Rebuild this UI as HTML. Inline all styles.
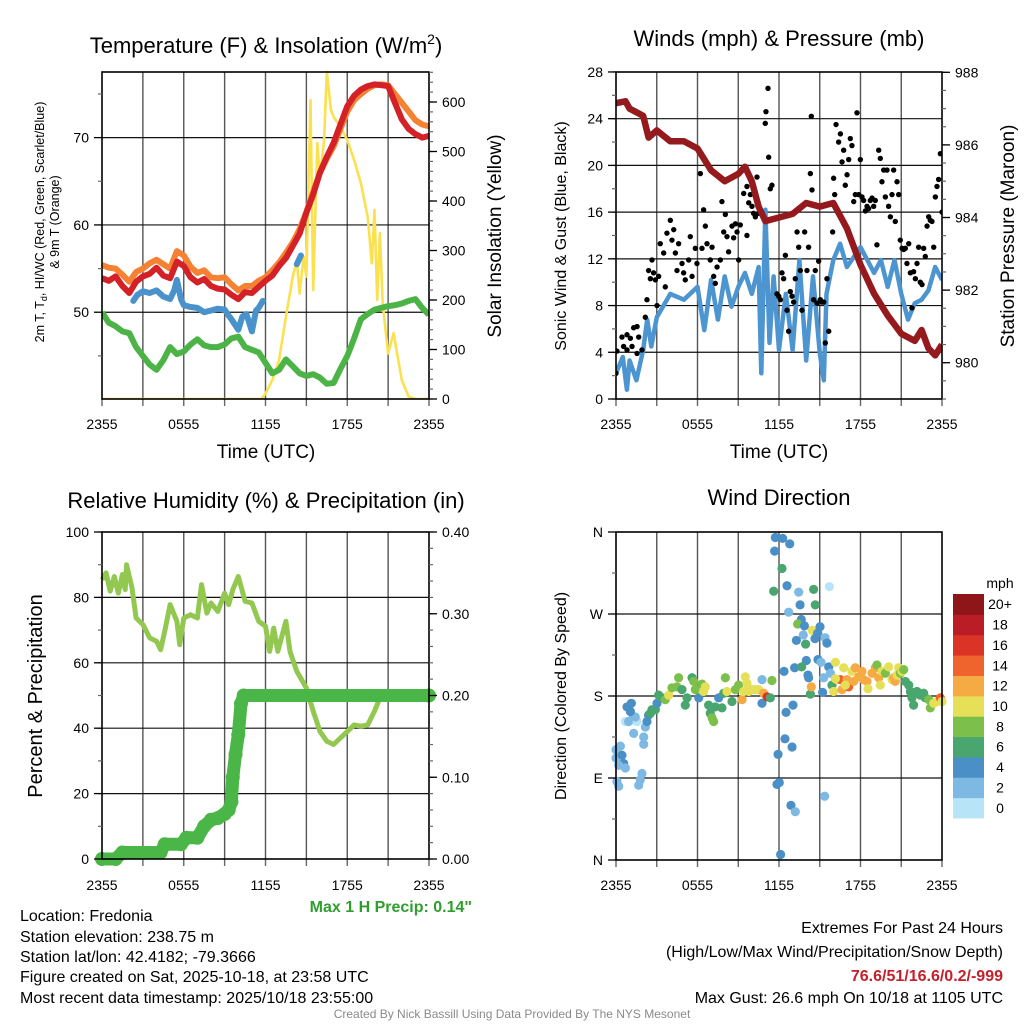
<!DOCTYPE html>
<html><head><meta charset="utf-8"><style>
html,body{margin:0;padding:0;background:#fff;}
svg{display:block;font-family:"Liberation Sans",Arial,sans-serif;}
</style></head><body>
<svg id="fig" xmlns="http://www.w3.org/2000/svg" width="1024" height="1024" viewBox="0 0 1024 1024">
<rect width="1024" height="1024" fill="#fff"/>
<g id="g1"></g>
<g id="g2"></g>
<g id="g3"></g>
<g id="g4"></g>
<g id="titles" font-size="22" text-anchor="middle">
<text x="266" y="53">Temperature (F) &amp; Insolation (W/m<tspan font-size="14" dy="-9">2</tspan><tspan dy="9">)</tspan></text>
<text x="779" y="46">Winds (mph) &amp; Pressure (mb)</text>
<text x="266" y="508">Relative Humidity (%) &amp; Precipitation (in)</text>
<text x="779" y="505">Wind Direction</text>
<text x="266" y="458" font-size="19">Time (UTC)</text>
<text x="779" y="458" font-size="19">Time (UTC)</text>
<text transform="translate(44,222) rotate(-90)" font-size="12.5">2m T, T<tspan font-size="9" dy="3">d</tspan><tspan dy="-3">, HI/WC (Red, Green, Scarlet/Blue)</tspan></text>
<text transform="translate(59,222) rotate(-90)" font-size="12.5">&amp; 9m T (Orange)</text>
<text transform="translate(501,236) rotate(-90)" font-size="19">Solar Insolation (Yellow)</text>
<text transform="translate(566,236) rotate(-90)" font-size="16">Sonic Wind &amp; Gust (Blue, Black)</text>
<text transform="translate(1014,236) rotate(-90)" font-size="19">Station Pressure (Maroon)</text>
<text transform="translate(42,696) rotate(-90)" font-size="20">Percent &amp; Precipitation</text>
<text transform="translate(566,696) rotate(-90)" font-size="16">Direction (Colored By Speed)</text>
<text x="1000" y="588" font-size="14">mph</text>
</g>
<g id="txt" font-size="16" fill="#000">
<text x="20" y="921">Location: Fredonia</text>
<text x="20" y="942">Station elevation: 238.75 m</text>
<text x="20" y="962">Station lat/lon: 42.4182; -79.3666</text>
<text x="20" y="982">Figure created on Sat, 2025-10-18, at 23:58 UTC</text>
<text x="20" y="1003">Most recent data timestamp: 2025/10/18 23:55:00</text>
<text x="472" y="912" text-anchor="end" font-weight="bold" fill="#2e9e2e">Max 1 H Precip: 0.14"</text>
<text x="1003" y="933" text-anchor="end">Extremes For Past 24 Hours</text>
<text x="1003" y="957" text-anchor="end">(High/Low/Max Wind/Precipitation/Snow Depth)</text>
<text x="1003" y="981" text-anchor="end" font-weight="bold" fill="#c4202a">76.6/51/16.6/0.2/-999</text>
<text x="1003" y="1003" text-anchor="end">Max Gust: 26.6 mph On 10/18 at 1105 UTC</text>
<text x="512" y="1018" text-anchor="middle" font-size="12" fill="#8a8a8a">Created By Nick Bassill Using Data Provided By The NYS Mesonet</text>
</g>
</svg>
<script>
const timeTicks = ["2355","0555","1155","1755","2355"];
const tempHours = [0,0.5,1,1.5,2,2.5,3,3.5,4,4.5,5,5.5,6,6.5,7,7.5,8,8.5,9,9.5,10,10.5,11,11.5,12,12.5,13,13.5,14,14.5,15,15.5,16,16.5,17,17.5,18,18.5,19,19.5,20,20.5,21,21.5,22,22.5,23,23.5,24];
const temp2m = [53.9,53.6,54.1,53.0,52.2,53.5,54.1,54.4,55.1,54.2,53.9,55.8,55.3,54.0,53.4,53.8,53.0,52.7,52.6,52.0,51.5,52.3,52.2,52.9,53.6,54.2,55.3,56.2,57.6,59.0,61.4,63.5,66.0,67.8,69.4,71.5,73.6,74.8,75.5,75.9,76.1,76.0,75.9,74.0,72.1,71.0,70.4,70.0,70.2];
const temp9m = [55.4,55.1,55.0,54.3,53.5,54.6,55.0,55.6,56.0,55.5,55.0,57.0,56.5,55.2,54.5,54.8,54.0,53.9,54.0,53.2,52.5,53.0,53.0,53.6,54.0,54.8,55.7,56.8,58.0,59.5,61.5,63.8,66.0,67.6,69.0,71.0,73.0,74.3,75.0,75.6,76.0,76.1,76.0,75.0,74.0,73.0,72.0,71.5,71.3];
const dewPoint = [50.0,48.8,48.4,47.8,47.6,46.0,45.0,44.0,43.4,44.5,46.0,45.2,45.5,46.3,46.9,46.2,46.0,46.0,46.3,47.0,47.2,46.0,45.7,45.4,44.2,43.0,43.4,44.6,43.8,43.0,42.7,42.9,42.5,41.8,41.9,43.5,45.0,47.0,49.2,49.8,50.3,50.5,50.7,50.8,51.0,51.3,51.5,50.5,49.7];
const chillHours = [2.3,2.6,3,3.5,4,4.5,5,5.3,5.5,5.8,6,6.5,7,7.5,8,8.5,9,9.3,9.5,10,10.3,10.6,11,11.3,11.5,11.8];
const windChill = [51.3,52.0,52.4,52.2,52.5,51.8,51.5,52.5,53.7,51.5,50.8,50.6,50.5,50.0,50.2,50.4,50.3,49.6,49.2,48.0,49.5,49.8,47.8,50.2,50.5,51.3];
const chillHours2 = [14.3,14.6];
const windChill2 = [55.5,56.5];
const solarHours = [0,11.7,12,12.5,13,13.5,14,14.3,14.5,14.8,15,15.3,15.5,15.8,16,16.3,16.5,16.8,17,17.5,18,18.5,19,19.5,19.8,20,20.2,20.4,20.6,21,21.4,22,22.5,23,24];
const solarVals = [0,0,11,38,79,166,247,281,213,288,247,604,220,517,449,523,661,584,570,550,523,483,436,368,274,382,200,335,193,92,133,38,5,0,0];

const windHours = [0,0.5,0.8,1,1.5,2,2.3,2.6,3,4,5,6,6.5,7,7.5,8,8.5,9,9.5,10,10.5,10.7,11,11.3,11.6,12,12.5,13,13.5,14,14.5,15,15.3,15.5,16,16.5,17,18,19,19.5,20,20.5,21,21.5,22,22.5,23,23.5,24];
const windSpeed = [2.2,3.6,0.8,3.3,1.6,4.2,6.8,4.5,7.0,9.0,8.5,9.6,5.9,10.2,6.8,10.5,7.9,9.6,10.8,9.0,11.3,2.2,16.2,4.8,10.5,4.2,9.0,4.2,11.9,3.3,10.5,3.9,1.6,9.0,11.9,13.3,11.3,13.0,10.8,11.9,9.6,11.9,9.0,6.8,8.2,8.5,9.3,11.3,10.2];
const presHours = [0,0.7,1,2,2.4,3,4,5,6,7,8,9,9.5,10,10.5,11,12,13,14,15,16,17,18,19,20,21,22,22.5,23,23.5,24];
const pressure = [987.15,987.2,987.0,986.8,986.2,986.4,986.1,986.1,985.9,985.3,985.0,985.2,985.4,985.0,984.3,983.9,984.0,984.1,984.4,984.3,984.4,983.7,982.7,981.9,981.3,980.8,980.6,980.9,980.4,980.2,980.5];
const gustHours = [
0,0.07,0.44,0.81,1.06,1.3,1.55,1.18,0.81,1.67,
1.91,1.55,0.56,2.16,2.28,2.4,2.65,2.77,2.53,2.9,
3.02,3.14,3.26,3.51,3.63,3.75,4.0,4.12,4.25,4.37,
4.49,4.61,4.86,4.98,5.1,5.35,5.47,5.6,5.84,5.96,
6.21,6.33,6.45,6.58,6.7,6.94,7.07,7.19,7.31,7.44,
7.68,7.8,7.93,8.05,8.17,8.29,8.54,8.66,8.79,8.91,
9.03,9.15,9.4,9.64,9.77,9.89,10.01,10.13,10.26,10.38,
10.5,10.63,9.64,10.99,11.04,11.19,11.24,11.36,11.48,11.85,
11.98,12.1,12.22,12.34,12.47,12.59,12.71,12.83,12.96,13.08,
13.2,13.33,13.45,13.57,13.69,13.89,14.06,14.18,14.31,14.38,
14.43,14.55,14.67,14.8,14.92,15.04,15.17,15.29,15.41,15.53,
15.66,15.95,16.02,16.1,16.2,16.39,16.52,16.64,16.76,16.88,
17.01,17.13,17.25,17.37,17.5,17.62,17.74,17.87,17.99,18.11,
18.23,18.36,18.48,18.6,18.72,18.85,18.97,19.09,19.21,19.34,
19.46,19.58,19.71,19.83,19.95,20.07,20.2,20.32,20.44,20.56,
20.69,20.81,20.93,21.06,21.18,21.3,21.42,21.55,21.67,21.79,
21.91,22.04,22.16,22.28,22.4,22.53,22.65,22.77,22.9,23.02,
23.14,23.26,23.39,23.51,23.63,23.75,23.88,24.0];
const gustMph = [
2.2,4.1,5.3,5.5,5.2,6.1,6.2,4.5,4.2,5.3,
4.2,3.9,4.5,7.0,8.5,11.0,11.9,10.8,10.3,10.2,
8.0,10.5,13.3,12.5,9.6,14.2,15.3,13.6,14.5,12.5,
11.0,13.3,11.6,10.8,10.2,11.9,13.9,10.5,12.9,11.6,
19.3,12.9,16.2,14.8,13.3,11.9,13.0,10.5,9.9,11.3,
11.9,16.9,14.3,15.8,13.9,12.6,14.8,13.8,15.0,14.3,
11.9,14.9,17.6,18.2,16.8,17.5,16.5,15.9,15.6,19.0,
15.9,15.9,14.0,23.6,24.6,26.6,20.7,18.0,18.3,9.0,
8.8,8.5,10.8,10.3,12.3,7.6,5.8,9.2,8.8,8.3,
10.3,14.3,13.0,11.0,7.6,14.3,11.0,13.0,19.3,24.2,
17.9,8.5,11.0,8.2,11.8,8.5,8.3,8.3,4.8,10.3,
5.8,14.3,18.9,17.5,23.5,22.0,22.7,20.3,21.3,18.3,
19.2,20.5,22.3,21.7,16.9,17.5,24.5,17.5,20.5,17.3,
17.0,16.1,16.5,16.3,17.0,17.2,16.5,17.0,13.2,21.3,
20.6,18.6,19.6,17.3,19.6,16.5,15.6,17.5,19.6,15.2,
18.6,17.5,13.6,12.9,12.8,12.9,11.6,13.3,10.8,7.8,
10.9,10.3,11.6,13.0,10.0,9.8,12.9,12.2,14.8,15.6,
15.3,15.2,13.0,17.3,18.2,18.8,21.0,16.0];

const rhHours = [0,0.3,0.6,0.9,1.2,1.5,1.7,1.8,2.2,2.5,3,3.5,4,4.3,4.6,5,5.5,5.7,6,6.5,7,7.3,7.7,8,8.5,9,9.3,9.6,10,10.5,11,11.5,12,12.3,12.6,12.9,13.5,13.8,14.3,15,15.5,16,16.5,17,17.5,18,18.5,19,19.5,20,20.5,21,22,24];
const rhVals = [85.4,87.5,81.9,86.4,81.3,87.0,82.4,90.0,82.9,73.7,71.7,67.6,66.6,64.0,69.6,77.8,72.7,65.5,73.7,74.7,73.7,83.9,75.2,78.3,75.7,81.3,77.8,82.4,86.4,78.8,78.3,72.7,71.2,63.5,70.6,63.5,72.7,63.5,57.4,52.3,45.2,39.0,36.0,35.0,37.0,39.0,41.0,40.6,41.0,45.2,50.3,50.8,50.5,50.5];
const precipHours = [0,1,1.5,4.3,4.6,5.8,6.2,7,7.5,8,8.5,9,9.3,9.5,9.6,9.8,10,10.2,10.4,24];
const precipVals = [0,0,0.008,0.008,0.018,0.018,0.026,0.026,0.04,0.048,0.05,0.055,0.06,0.07,0.10,0.128,0.152,0.19,0.20,0.20];

const dirLabels = ["N","E","S","W","N"];
const speedBins = ["0","2","4","6","8","10","12","14","16","18","20+"];
const binColors = ["#b8e4f8","#7db9e3","#4a8fc6","#49a66f","#7cc04b","#e6e059","#f6aa44","#ef642c","#dc3327","#ba1d26","#8e1619"];
const dirHours = [
0,0,0.32,0.44,0.56,0.2,0.69,0.07,0.2,1.67,
1.79,1.91,1.3,2.04,2.04,2.16,0.69,0.93,1.18,1.55,
1.42,2.28,0.81,1.13,1.06,2.4,2.53,2.65,2.9,3.02,
3.14,3.39,3.63,3.88,4.12,4.49,4.61,4.86,5.1,5.23,
5.6,5.72,5.84,6.09,6.33,6.58,6.45,6.82,6.94,7.07,
7.19,7.31,7.56,7.8,7.93,8.05,8.17,8.54,8.79,9.03,
9.28,9.4,9.52,9.64,9.77,10.01,10.26,10.5,10.75,10.87,
11.12,11.36,11.48,10.75,
11.73,12.27,12.79,11.68,12.22,11.61,12.59,13.45,14.55,15.71,
13.55,14.67,12.71,13.64,13.37,13.87,14.45,15.02,13.79,14.85,
15.39,13.28,14.65,13.96,15.53,14.01,14.87,15.09,13.15,13.67,
12.37,15.66,15.78,14.13,14.18,15.29,16.15,13.03,12.52,12.44,
12.96,11.93,11.85,12.02,12.88,13.2,15.36,12.12,14.31,15.21,14.38,
15.9,16.02,16.27,16.52,16.64,16.76,17.01,17.13,17.37,17.5,
17.62,17.87,18.11,18.23,18.48,18.55,18.85,19.09,19.21,19.34,
19.58,19.46,19.83,20.07,20.32,20.44,20.56,20.69,20.81,20.93,
21.06,21.18,21.3,21.55,21.67,21.79,21.91,22.16,22.4,22.65,
22.77,23.02,23.14,23.39,23.63,23.88,24,16.88,16.15];
const dirDeg = [
121,112,125,115,106,104,101,86,81,82,
88,95,139,135,127,146,152,152,154,152,
157,152,168,172,163,159,161,165,165,172,
181,178,176,181,189,190,200,187,170,178,
200,196,187,178,193,190,185,170,161,156,
152,168,178,167,183,200,185,174,187,192,
176,185,201,194,185,187,187,187,172,183,
179,178,197,198,
354,353,347,339,320,295,301,294,297,300,
280,280,272,264,259,257,252,256,247,249,
244,241,243,237,238,219,220,217,211,212,
207,212,205,203,200,200,217,170,162,133,
124,116,83,85,60,53,70,6,182,184,190,
192,185,198,198,187,211,198,190,207,196,
211,201,207,198,196,188,205,211,214,200,
207,192,205,212,198,200,196,203,211,205,
207,209,196,192,185,178,170,185,181,183,
178,176,167,172,174,178,174,192,199];
const dirSpeed = [
2,2,2,4,4,2,2,2,2,2,
2,2,2,2,2,2,0,2,2,0,
2,4,4,4,4,4,6,6,6,4,
6,6,8,10,8,8,8,6,6,6,
6,8,8,4,8,10,10,6,6,8,
8,6,4,6,6,8,10,6,8,8,
12,10,10,10,10,10,10,10,4,12,
16,6,8,2,
4,4,4,4,6,6,4,2,6,0,
4,6,2,4,8,4,10,4,2,4,
2,4,4,6,4,4,4,2,4,6,
4,4,2,4,4,2,10,4,4,4,
4,4,4,4,4,2,2,4,6,4,12,
6,10,10,14,12,10,12,14,10,12,
12,12,12,12,12,10,12,12,8,12,
10,10,8,10,10,12,12,10,10,8,
10,8,6,6,6,6,6,6,6,6,
6,8,8,10,10,14,10,10,10];

const NS = "http://www.w3.org/2000/svg";
function mk(tag, attrs, parent){const e=document.createElementNS(NS,tag);for(const k in attrs)e.setAttribute(k,attrs[k]);parent.appendChild(e);return e;}
function pathFrom(xs, ys, fx, fy){let d="";for(let i=0;i<xs.length;i++){d+=(i?"L":"M")+fx(xs[i]).toFixed(1)+","+fy(ys[i]).toFixed(1);}return d;}

function frame(g, L, R, T, B, gridYs, xLabY){
  for(let h=3;h<24;h+=3){
    const x=L+h/24*(R-L);
    const ln=mk("line",{x1:x,x2:x,y1:T,y2:B,stroke:"#555","stroke-width":1.4},g);
    
    
  }
  gridYs.forEach(y=>{
    const ln=mk("line",{x1:L,x2:R,y1:y,y2:y,stroke:"#111","stroke-width":1.2},g);
    
    
  });
  for(let h=0;h<=24;h+=3){
    const x=L+h/24*(R-L);
    const tk=mk("line",{x1:x,x2:x,y1:B,y2:B+7,stroke:"#666","stroke-width":1.4},g);
    
    
  }
  timeTicks.forEach((s,i)=>{
    const t=mk("text",{x:L+i*6/24*(R-L),y:xLabY,"text-anchor":"middle","font-size":14},g);
    t.textContent=s;
    
    
  });
}
function border(g,L,R,T,B){
  const r=mk("rect",{x:L,y:T,width:R-L,height:B-T,fill:"none",stroke:"#000","stroke-width":1.6},g);
  
  
}
function yAxis(g, x, side, vals, fy, labels, minorVals){
  const dir = side==="left"?-1:1;
  minorVals.forEach(v=>{
    const tk=mk("line",{x1:x,x2:x+dir*4,y1:fy(v),y2:fy(v),stroke:"#666","stroke-width":1.2},g);
    
    
  });
  vals.forEach((v,i)=>{
    const y=fy(v);
    const tk=mk("line",{x1:x,x2:x+dir*8,y1:y,y2:y,stroke:"#000","stroke-width":1.3},g);
    
    
    const t=mk("text",{x:x+dir*13,y:y+5,"text-anchor":side==="left"?"end":"start","font-size":14},g);
    t.textContent=labels[i];
    
    
  });
}
function range(a,b,s){const r=[];for(let v=a;v<=b+1e-9;v+=s)r.push(+v.toFixed(4));return r;}

(function(){
  const g=document.getElementById("g1");
  const L=102,R=429,T=72,B=399;
  const x=h=>L+h/24*(R-L);
  const yT=f=>B-(f-40.06)*8.73;
  const yS=w=>B-w*0.495;
  frame(g,L,R,T,B,[yT(50),yT(60),yT(70)],429);
  const clip=mk("clipPath",{id:"c1"},g); mk("rect",{x:L,y:T-2,width:R-L,height:B-T+2},clip);
  const pg=mk("g",{"clip-path":"url(#c1)"},g);
  const sol=mk("path",{d:pathFrom(solarHours,solarVals,x,yS),fill:"none",stroke:"#fbe150","stroke-width":2.6,"stroke-linejoin":"round"},pg);
  
  
  const dw=mk("path",{d:pathFrom(tempHours,dewPoint,x,yT),fill:"none",stroke:"#4cb447","stroke-width":6,"stroke-linejoin":"round"},pg);
  
  
  const t9=mk("path",{d:pathFrom(tempHours,temp9m,x,yT),fill:"none",stroke:"#f58232","stroke-width":6,"stroke-linejoin":"round"},pg);
  
  
  const t2=mk("path",{d:pathFrom(tempHours,temp2m,x,yT),fill:"none",stroke:"#d42027","stroke-width":6,"stroke-linejoin":"round"},pg);
  
  
  const wc=mk("path",{d:pathFrom(chillHours,windChill,x,yT),fill:"none",stroke:"#4a92cc","stroke-width":6,"stroke-linejoin":"round","stroke-linecap":"round"},pg);
  
  
  const wc2=mk("path",{d:pathFrom(chillHours2,windChill2,x,yT),fill:"none",stroke:"#4a92cc","stroke-width":6,"stroke-linecap":"round"},pg);
  
  
  border(g,L,R,T,B);
  yAxis(g,L,"left",[50,60,70],yT,["50","60","70"],[45,55,65,75]);
  yAxis(g,R,"right",range(0,600,100),yS,range(0,600,100).map(String),range(0,660,20));
})();

(function(){
  const g=document.getElementById("g2");
  const L=616,R=942,T=72,B=399;
  const x=h=>L+h/24*(R-L);
  const yW=m=>B-m*11.68;
  const yP=p=>B-(p-979)*36.3;
  frame(g,L,R,T,B,range(4,24,4).map(yW),429);
  const clip=mk("clipPath",{id:"c2"},g); mk("rect",{x:L,y:T,width:R-L,height:B-T},clip);
  const pg=mk("g",{"clip-path":"url(#c2)"},g);
  const ws=mk("path",{d:pathFrom(windHours,windSpeed,x,yW),fill:"none",stroke:"#4d95d0","stroke-width":4.5,"stroke-linejoin":"round"},pg);
  
  
  gustHours.forEach((h,i)=>{
    const c=mk("circle",{cx:x(h),cy:yW(gustMph[i]),r:2.7,fill:"#000"},pg);
    
    
  });
  const pr=mk("path",{d:pathFrom(presHours,pressure,x,yP),fill:"none",stroke:"#951a1d","stroke-width":6.5,"stroke-linejoin":"round"},pg);
  
  
  border(g,L,R,T,B);
  yAxis(g,L,"left",range(0,28,4),yW,range(0,28,4).map(String),range(0,28,2));
  yAxis(g,R,"right",range(980,988,2),yP,range(980,988,2).map(String),range(979,988,0.5));
})();

(function(){
  const g=document.getElementById("g3");
  const L=102,R=429,T=532,B=859;
  const x=h=>L+h/24*(R-L);
  const yR=v=>B-v*3.27;
  const yPr=v=>B-v*817.5;
  frame(g,L,R,T,B,range(20,80,20).map(yR),890);
  const clip=mk("clipPath",{id:"c3"},g); mk("rect",{x:L-8,y:T,width:R-L+16,height:B-T+8},clip);
  const pg=mk("g",{"clip-path":"url(#c3)"},g);
  const rh=mk("path",{d:pathFrom(rhHours,rhVals,x,yR),fill:"none",stroke:"#93c850","stroke-width":5,"stroke-linejoin":"round"},pg);
  
  
  const pc=mk("path",{d:pathFrom(precipHours,precipVals,x,yPr),fill:"none",stroke:"#4bb648","stroke-width":13,"stroke-linejoin":"round","stroke-linecap":"round"},pg);
  
  
  precipHours.forEach((h,i)=>{
    const c=mk("circle",{cx:x(h),cy:yPr(precipVals[i]),r:7,fill:"#4bb648"},pg);
    
    
  });
  border(g,L,R,T,B);
  yAxis(g,L,"left",range(0,100,20),yR,range(0,100,20).map(String),range(0,100,10));
  yAxis(g,R,"right",range(0,0.4,0.1),yPr,range(0,0.4,0.1).map(v=>v.toFixed(2)),range(0,0.4,0.02));
})();

(function(){
  const g=document.getElementById("g4");
  const L=616,R=942,T=532,B=860;
  const x=h=>L+h/24*(R-L);
  const yD=d=>B-d*(B-T)/360;
  frame(g,L,R,T,B,[90,180,270].map(yD),890);
  const pg=mk("g",{},g);
  dirHours.forEach((h,i)=>{
    const bin=Math.min(10,Math.floor(dirSpeed[i]/2+0.25));
    const c=mk("circle",{cx:x(h),cy:yD(dirDeg[i]),r:4.6,fill:binColors[bin]},pg);
    
    
  });
  border(g,L,R,T,B);
  yAxis(g,L,"left",[0,90,180,270,360],yD,dirLabels,[45,135,225,315]);
  const cbT=594,cbH=224/11;
  speedBins.forEach((s,i)=>{
    const yy=cbT+(10-i)*cbH;
    const r=mk("rect",{x:953,y:yy,width:31,height:cbH+0.5,fill:binColors[i]},g);
    
    
    const t=mk("text",{x:1000,y:yy+cbH/2+5,"font-size":14,"text-anchor":"middle"},g);
    t.textContent=s;
    
    
  });
})();
</script>
</body></html>
